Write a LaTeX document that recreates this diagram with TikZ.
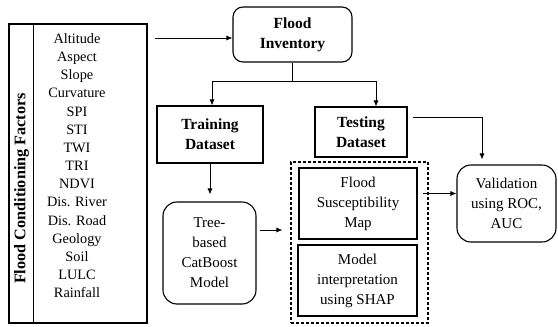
\documentclass[tikz,border=0pt]{standalone}
\usepackage{fontspec}
\setmainfont{Liberation Serif}
\usetikzlibrary{arrows.meta}

\tikzset{
  box/.style={draw, line width=1.1pt, align=center, inner sep=0pt,
    font=\fontsize{15}{20}\selectfont},
  roundbox/.style={box, rounded corners=14pt},
  title/.style={font=\fontsize{15.5}{20}\selectfont\bfseries},
  arrow/.style={-{Latex[length=6pt,width=5pt]}, line width=0.8pt},
}

\begin{document}
\begin{tikzpicture}[x=1pt,y=-1pt]
			%%%%% START %%%%%
			\useasboundingbox (0,0) rectangle (558,327);
			
			% factors column
			\node[box, minimum width=138pt, minimum height=299pt] (factors) at (78,173.5) {};
			\draw[line width=0.9pt] ([xshift=25pt]factors.north west) -- ([xshift=25pt]factors.south west);
			\node[rotate=90, font=\fontsize{16.2}{20}\selectfont\bfseries] (factortitle) at (21.5,188.5) {Flood Conditioning Factors};
			\node[align=center, font=\fontsize{14.3}{18.18}\selectfont] (factorlist) at (77,165.7)
			{Altitude\\Aspect\\Slope\\Curvature\\SPI\\STI\\TWI\\TRI\\NDVI\\Dis. River\\Dis. Road\\Geology\\Soil\\LULC\\Rainfall};
			
			% main boxes
			\node[roundbox, title, minimum width=119pt, minimum height=55pt, rounded corners=10pt] (inventory) at (292.5,34.5) {Flood\\Inventory};
			\node[box, title, minimum width=106pt, minimum height=57pt] (training) at (210,134.5) {Training\\Dataset};
			\node[box, title, minimum width=92pt, minimum height=50pt] (testing) at (361,132) {Testing\\Dataset};
			\node[roundbox, minimum width=93pt, minimum height=102pt] (catboost) at (209.5,253) {Tree-\\based\\CatBoost\\Model};
			\node[draw, line width=1.1pt, dash pattern=on 3pt off 2pt, minimum width=137pt, minimum height=161pt] (results) at (359.5,242.5) {};
			\node[box, minimum width=118pt, minimum height=71pt] (fsm) at (358,203.5) {Flood\\Susceptibility\\Map};
			\node[box, minimum width=119pt, minimum height=71pt] (shap) at (357.5,280.5) {Model\\interpretation\\using SHAP};
			\node[roundbox, minimum width=99pt, minimum height=77pt] (validation) at (506.5,203.5) {Validation\\using ROC,\\AUC};
			
			% connectors
			\coordinate (invin) at (155,38);
			\draw[arrow] (invin) -- (invin -| inventory.west);
			\draw[arrow] (inventory.south) -- ++(0,19) coordinate (split) -| ([xshift=2pt]training.north);
			\draw[arrow] (split) -| ([xshift=15pt]testing.north);
			\draw[arrow, shorten >=7pt] (training.south) -- (training.south |- catboost.north);
			\coordinate (catout) at (260,230);
			\draw[arrow, shorten >=8pt] (catout) -- (catout -| results.west);
			\draw[arrow, shorten >=5pt] ([xshift=5pt,yshift=15pt]testing.east) -| ([xshift=-24.5pt]validation.north);
			\draw[arrow] ([xshift=5pt,yshift=10pt]fsm.east) -- ([yshift=10pt]validation.west);
			
			%%%%% END %%%%%
\end{tikzpicture}
\end{document}
